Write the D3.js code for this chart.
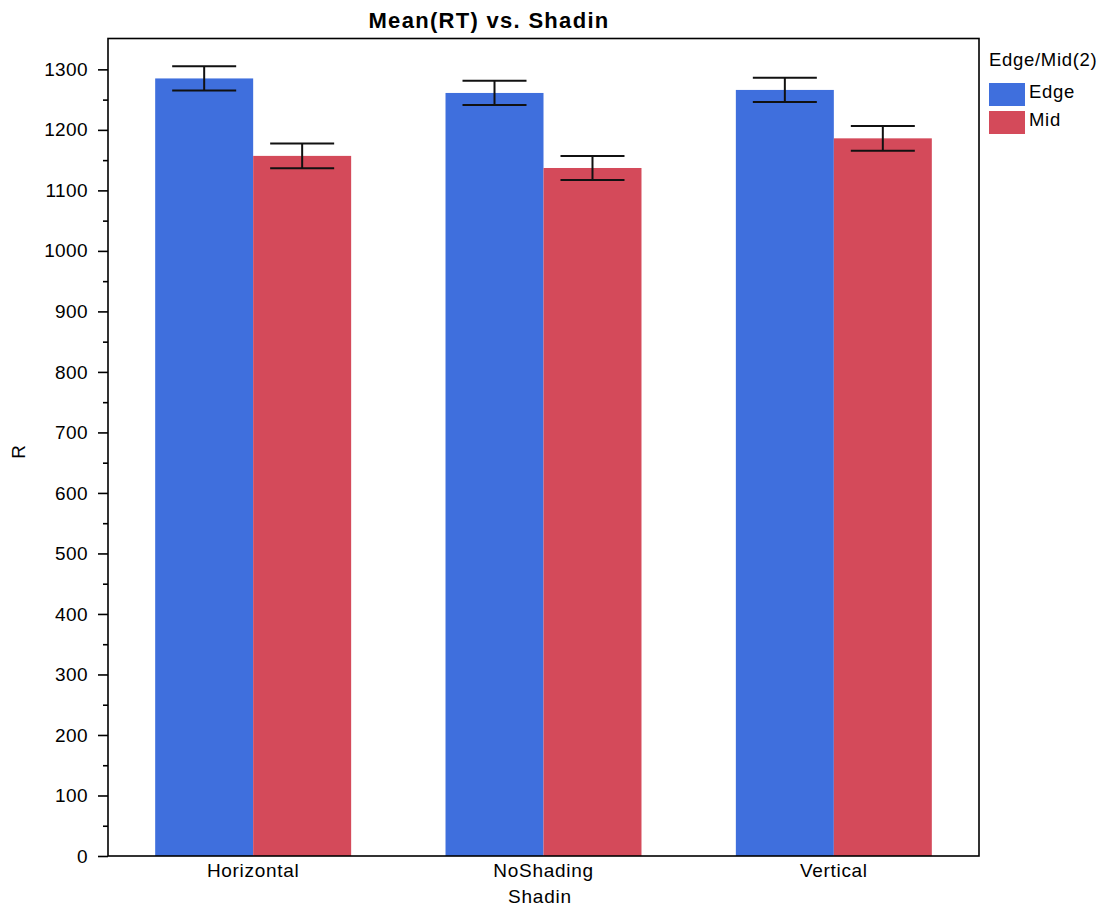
<!DOCTYPE html>
<html>
<head>
<meta charset="utf-8">
<script src="https://cdn.jsdelivr.net/npm/d3@7"></script>
<style>
  html, body { margin: 0; padding: 0; background: #fff; }
  svg { display: block; font-family: "Liberation Sans", Arial, sans-serif; }
</style>
</head>
<body>
<svg id="chart" width="1111" height="907"></svg>
<script>
// Mean reaction time by shading type, split by edge/mid position
const categories = ["Horizontal", "NoShading", "Vertical"];
const groups = ["Edge", "Mid"];
const edgeMeans = [1285, 1261, 1266];
const midMeans = [1157, 1137, 1186];
const edgeErr = [20, 20, 20];
const midErr = [20.5, 20, 20.5];
const yTicks = [0, 100, 200, 300, 400, 500, 600, 700, 800, 900, 1000, 1100, 1200, 1300];
const yMinorTicks = [50, 150, 250, 350, 450, 550, 650, 750, 850, 950, 1050, 1150, 1250];

const colors = { Edge: "#3f6fdd", Mid: "#d44a5a" };

const svg = d3.select("#chart");
const plot = { left: 108, right: 979, top: 38.5, bottom: 856 };

const x = d3.scaleBand().domain(categories).range([plot.left, plot.right]).padding(0);
const y = d3.scaleLinear().domain([0, 1351]).range([plot.bottom, plot.top]);

const groupFrac = 0.675;
const xInner = d3.scaleBand().domain(groups)
  .range([0, x.bandwidth() * groupFrac]).padding(0);

const rows = [];
categories.forEach((c, i) => {
  rows.push({ cat: c, grp: "Edge", mean: edgeMeans[i], err: edgeErr[i] });
  rows.push({ cat: c, grp: "Mid", mean: midMeans[i], err: midErr[i] });
});

const groupOffset = x.bandwidth() * (1 - groupFrac) / 2;

// bars
svg.append("g").selectAll("rect").data(rows).join("rect")
  .attr("x", d => x(d.cat) + groupOffset + xInner(d.grp))
  .attr("y", d => y(d.mean))
  .attr("width", xInner.bandwidth())
  .attr("height", d => y(0) - y(d.mean))
  .attr("fill", d => colors[d.grp]);

// error bars
const capW = 64;
const eb = svg.append("g").attr("stroke", "#111").attr("stroke-width", 2).attr("fill", "none");
rows.forEach(d => {
  const cx = x(d.cat) + groupOffset + xInner(d.grp) + xInner.bandwidth() / 2;
  const yHi = y(d.mean + d.err), yLo = y(d.mean - d.err);
  eb.append("line").attr("x1", cx).attr("x2", cx).attr("y1", yHi).attr("y2", yLo);
  eb.append("line").attr("x1", cx - capW / 2).attr("x2", cx + capW / 2).attr("y1", yHi).attr("y2", yHi);
  eb.append("line").attr("x1", cx - capW / 2).attr("x2", cx + capW / 2).attr("y1", yLo).attr("y2", yLo);
});

// frame
svg.append("rect")
  .attr("x", plot.left).attr("y", plot.top)
  .attr("width", plot.right - plot.left).attr("height", plot.bottom - plot.top)
  .attr("fill", "none").attr("stroke", "#000").attr("stroke-width", 1.6);

// y axis
const yAxis = svg.append("g").attr("transform", `translate(${plot.left},0)`)
  .call(d3.axisLeft(y).tickValues(yTicks).tickSize(10).tickPadding(10).tickFormat(d3.format("d")));
yAxis.select(".domain").remove();
yAxis.selectAll(".tick line").attr("stroke", "#000").attr("stroke-width", 1.6);
yAxis.selectAll(".tick text").attr("font-size", 19).attr("letter-spacing", 0.4).attr("fill", "#000")
  .attr("font-family", "'Liberation Sans', Arial, sans-serif");

const yMinor = svg.append("g").attr("transform", `translate(${plot.left},0)`)
  .call(d3.axisLeft(y).tickValues(yMinorTicks).tickSize(5).tickFormat(""));
yMinor.select(".domain").remove();
yMinor.selectAll(".tick line").attr("stroke", "#000").attr("stroke-width", 1.6);

// x axis
const xAxis = svg.append("g").attr("transform", `translate(0,${plot.bottom})`)
  .call(d3.axisBottom(x).tickSize(0).tickPadding(8));
xAxis.select(".domain").remove();
xAxis.selectAll(".tick text").attr("font-size", 19).attr("letter-spacing", 0.7).attr("fill", "#000")
  .attr("font-family", "'Liberation Sans', Arial, sans-serif");

// titles
svg.append("text").attr("x", 489).attr("y", 27.5).attr("text-anchor", "middle")
  .attr("font-size", 22).attr("letter-spacing", 1.3).attr("font-weight", "bold")
  .text("Mean(RT) vs. Shadin");
svg.append("text").attr("x", 540).attr("y", 903).attr("text-anchor", "middle")
  .attr("font-size", 19).attr("letter-spacing", 0.8).text("Shadin");
svg.append("text").attr("transform", "translate(25,452) rotate(-90)").attr("text-anchor", "middle")
  .attr("font-size", 19).text("R");

// legend
const lg = svg.append("g");
lg.append("text").attr("x", 989).attr("y", 66).attr("font-size", 18.5).attr("letter-spacing", 0.7)
  .text("Edge/Mid(2)");
groups.forEach((g, i) => {
  lg.append("rect").attr("x", 989).attr("y", 83 + i * 28).attr("width", 36).attr("height", 23)
    .attr("fill", colors[g]);
  lg.append("text").attr("x", 1029).attr("y", 97.5 + i * 28).attr("font-size", 18.5)
    .attr("letter-spacing", 0.7).text(g);
});
</script>
</body>
</html>
